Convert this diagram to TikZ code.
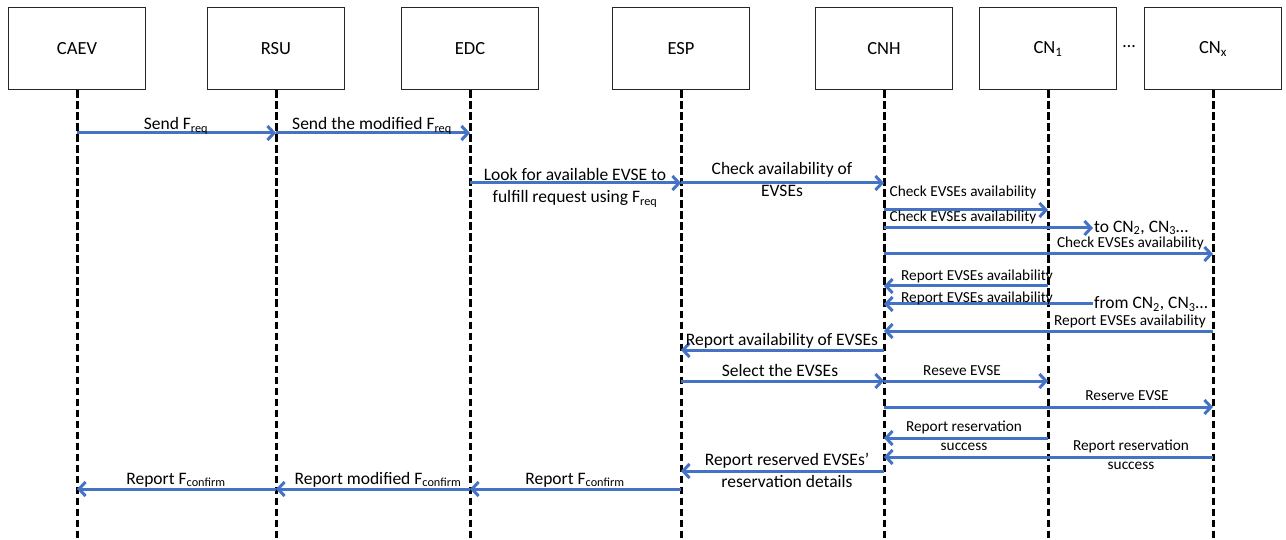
\documentclass[tikz,border=0pt]{standalone}
\usepackage{fontspec}
\setmainfont{Carlito}
\usetikzlibrary{arrows.meta}
\definecolor{msgblue}{HTML}{4472C4}
\tikzset{
  actor/.style={draw=black!85, line width=1pt, minimum width=137pt,
    minimum height=82pt, inner sep=0pt, font=\fontsize{18.5}{20}\selectfont},
  lifeline/.style={draw=black, line width=3pt, dash pattern=on 7.5pt off 3.5pt},
  msg/.style={draw=msgblue, line width=3pt,
    -{Straight Barb[length=6.5pt,width=14pt]}},
  lbl/.style={font=\fontsize{17.5}{22}\selectfont, inner sep=0pt,
    anchor=base, align=center},
  slbl/.style={font=\fontsize{15.3}{18.5}\selectfont, inner sep=0pt,
    anchor=base, align=center},
  note/.style={font=\fontsize{17.5}{22}\selectfont, inner sep=1pt, anchor=west},
}
\newcommand{\Freq}{F\textsubscript{req}}
\newcommand{\Fconf}{F\textsubscript{confirm}}
\begin{document}
\begin{tikzpicture}[x=1pt,y=-1pt]
\useasboundingbox (0,0) rectangle (1286,540);

% participants
\node[actor] (CAEV) at (77,49) {CAEV};
\node[actor] (RSU)  at (276,49) {RSU};
\node[actor] (EDC)  at (470,49) {EDC};
\node[actor] (ESP)  at (681,49) {ESP};
\node[actor] (CNH)  at (884,49) {CNH};
\node[actor] (CN1)  at (1048,49) {CN\textsubscript{1}};
\node[actor] (CNx)  at (1213,49) {CN\textsubscript{x}};
\node[font=\fontsize{18}{20}\selectfont] (dots) at (1129,47) {…};

% lifelines
\foreach \p in {CAEV,RSU,EDC,ESP,CNH,CN1,CNx}{
  \coordinate (\p-bot) at (\p |- 0,540);
  \draw[lifeline] (\p.south) -- (\p-bot);
}

% request (two-line labels are placed by the baseline of their last line)
\draw[msg] (CAEV |- 0,133) -- (RSU |- 0,133);
\node[lbl] (l1) at (176,130) {Send \Freq};
\draw[msg] (RSU |- 0,133) -- (EDC |- 0,133);
\node[lbl] (l2) at (372,130) {Send the modified \Freq};

\draw[msg] (EDC |- 0,183) -- (ESP |- 0,183);
\node[lbl] (l3) at (575,203) {Look for available EVSE to\\fulfill request using \Freq};
\draw[msg] (ESP |- 0,183) -- (CNH |- 0,183);
\node[lbl] (l4) at (782,197) {Check availability of\\EVSEs};

% availability queries
\draw[msg] (CNH |- 0,210) -- (CN1 |- 0,210);
\node[slbl] (l5) at (963,197) {Check EVSEs availability};
\node[note] (toCN) at (1093,228) {to CN\textsubscript{2}, CN\textsubscript{3}…};
\draw[msg] (CNH |- 0,228) -- (toCN.west);
\node[slbl] (l6) at (963,222) {Check EVSEs availability};
\draw[msg] (CNH |- 0,254) -- (CNx |- 0,254);
\node[slbl, anchor=base east] (l7) at (1204,248) {Check EVSEs availability};

% availability reports
\draw[msg] (CN1 |- 0,286) -- (CNH |- 0,286);
\node[slbl] (l8) at (977,280) {Report EVSEs availability};
\node[note] (fromCN) at (1093,304) {from CN\textsubscript{2}, CN\textsubscript{3}…};
\draw[msg] (fromCN.west) -- (CNH |- 0,304);
\node[slbl] (l9) at (977,302) {Report EVSEs availability};
\draw[msg] (CNx |- 0,331) -- (CNH |- 0,331);
\node[slbl] (l10) at (1130,325) {Report EVSEs availability};

\draw[msg] (CNH |- 0,350) -- (ESP |- 0,350);
\node[lbl] (l11) at (782,345) {Report availability of EVSEs};

% reservation
\draw[msg] (ESP |- 0,381) -- (CNH |- 0,381);
\node[lbl] (l12) at (780,376) {Select the EVSEs};
\draw[msg] (CNH |- 0,381) -- (CN1 |- 0,381);
\node[slbl] (l13) at (962,375) {Reseve EVSE};
\draw[msg] (CNH |- 0,407) -- (CNx |- 0,407);
\node[slbl] (l14) at (1127,400) {Reserve EVSE};

\draw[msg] (CN1 |- 0,438) -- (CNH |- 0,438);
\node[slbl] (l15) at (964,450) {Report reservation\\success};
\draw[msg] (CNx |- 0,457) -- (CNH |- 0,457);
\node[slbl] (l16) at (1131,469) {Report reservation\\success};

% confirmation back to the vehicle
\draw[msg] (CNH |- 0,471) -- (ESP |- 0,471);
\node[lbl] (l17) at (787,487) {Report reserved EVSEs’\\reservation details};
\draw[msg] (ESP |- 0,489) -- (EDC |- 0,489);
\node[lbl] (l18) at (575,484) {Report \Fconf};
\draw[msg] (EDC |- 0,489) -- (RSU |- 0,489);
\node[lbl] (l19) at (378,484) {Report modified \Fconf};
\draw[msg] (RSU |- 0,489) -- (CAEV |- 0,489);
\node[lbl] (l20) at (176,484) {Report \Fconf};
\end{tikzpicture}
\end{document}
